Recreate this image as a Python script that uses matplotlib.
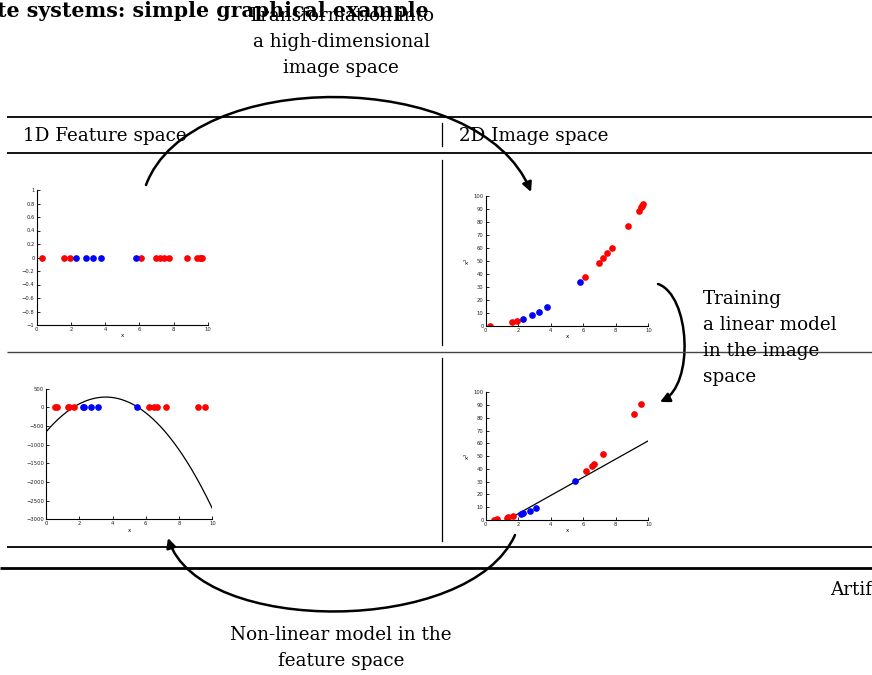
import numpy as np
import matplotlib.pyplot as plt
from matplotlib.patches import FancyArrowPatch
from matplotlib.path import Path

W, H = 872, 675

# data: 1D samples (top row) and second sample set (bottom row)
top_red = [0.29, 1.6, 1.95, 6.12, 6.96, 7.21, 7.47, 7.74, 8.77, 9.4, 9.55, 9.62, 9.69]
top_blue = [2.28, 2.87, 3.28, 3.76, 5.79]
bot_red = [0.54, 0.68, 1.3, 1.4, 1.68, 6.19, 6.51, 6.65, 7.19, 9.12, 9.55]
bot_blue = [2.2, 2.3, 2.7, 3.1, 5.5]

# fitted models
poly_feature = [-72.6, 521.0, -659.0]   # a*x^2 + b*x + c in feature space
line_image = [7.13, -9.3]               # slope, intercept in image space

xticks = [0, 2, 4, 6, 8, 10]
yticks_1d = [-1, -0.8, -0.6, -0.4, -0.2, 0, 0.2, 0.4, 0.6, 0.8, 1]
serif = 'DejaVu Serif'
fs = 13.2
lsp = 1.55

fig = plt.figure(figsize=(W / 100, H / 100), dpi=100)

# overlay in pixel coordinates
ov = fig.add_axes([0, 0, 1, 1])
ov.set_xlim(0, W)
ov.set_ylim(H, 0)
ov.axis('off')

def hline(y, x0, lw=1.3, color='black'):
    ov.plot([x0, W], [y, y], color=color, lw=lw, solid_capstyle='butt')

hline(117, 7)
hline(153, 7)
hline(351.5, 7, lw=1.0, color='#444444')
hline(546.5, 7)
hline(568, 0, lw=2.0)
for y0, y1 in [(123, 146), (160, 345), (358, 541)]:
    ov.plot([442, 442], [y0, y1], color='black', lw=0.9)

ov.text(-3, 17, 'te systems: simple graphical example', fontsize=14.8,
        fontweight='bold', family=serif, ha='left', va='baseline')
ov.text(341, 42, 'Transformation into\na high-dimensional\nimage space',
        fontsize=fs, family=serif, ha='center', va='center', linespacing=lsp)
ov.text(23, 136, '1D Feature space', fontsize=fs, family=serif, va='center')
ov.text(459, 136, '2D Image space', fontsize=fs, family=serif, va='center')
ov.text(703, 338, 'Training\na linear model\nin the image\nspace',
        fontsize=fs, family=serif, ha='left', va='center', linespacing=lsp)
ov.text(341, 648, 'Non-linear model in the\nfeature space', fontsize=fs,
        family=serif, ha='center', va='center', linespacing=lsp)
ov.text(830, 590, 'Artif', fontsize=fs, family=serif, va='center')

def curved_arrow(p0, c1, c2, p1):
    path = Path([p0, c1, c2, p1], [Path.MOVETO, Path.CURVE4, Path.CURVE4, Path.CURVE4])
    arr = FancyArrowPatch(path=path, arrowstyle='-|>', mutation_scale=14,
                          lw=1.8, color='black')
    ov.add_patch(arr)

curved_arrow((146, 185), (190, 67), (480, 67), (531, 192))
curved_arrow((658, 284), (690, 295), (695, 385), (660, 402))
curved_arrow((515, 535), (470, 636), (200, 636), (168, 538))

def frac(x0, x1, ytop, ybot):
    return [x0 / W, 1 - ybot / H, (x1 - x0) / W, (ybot - ytop) / H]

def style(ax):
    for s in ['top', 'right']:
        ax.spines[s].set_visible(False)
    for s in ['left', 'bottom']:
        ax.spines[s].set_linewidth(0.8)
    ax.tick_params(direction='in', length=2, width=0.6, labelsize=3.8,
                   pad=1.5, colors='black', labelcolor='#222222')
    ax.set_xlim(0, 10)
    ax.set_xticks(xticks)
    ax.set_xlabel('x', fontsize=4, labelpad=1)
    ax.patch.set_alpha(0)

ms = 3.8
# top-left: 1D feature space
ax1 = fig.add_axes(frac(36.7, 207.7, 190, 325))
ax1.plot(top_red, np.zeros(len(top_red)), 'o', color='red', ms=ms)
ax1.plot(top_blue, np.zeros(len(top_blue)), 'o', color='blue', ms=ms)
ax1.set_ylim(-1, 1)
ax1.set_yticks(yticks_1d)
ax1.set_yticklabels([f'{v:g}'.replace('-', '\u2212') for v in yticks_1d])
style(ax1)

# top-right: image space (x, x^2)
ax2 = fig.add_axes(frac(485.7, 648.3, 196, 325.7))
ax2.plot(top_red, np.square(top_red), 'o', color='red', ms=ms)
ax2.plot(top_blue, np.square(top_blue), 'o', color='blue', ms=ms)
ax2.set_ylim(0, 100)
ax2.set_yticks(range(0, 101, 10))
ax2.set_ylabel('x$^2$', fontsize=4, labelpad=1)
style(ax2)

# bottom-left: non-linear model in feature space
ax3 = fig.add_axes(frac(46, 212.3, 388.7, 519.3))
xs = np.linspace(0, 10, 200)
ax3.plot(xs, np.polyval(poly_feature, xs), color='black', lw=0.9)
ax3.plot(bot_red, np.zeros(len(bot_red)), 'o', color='red', ms=ms)
ax3.plot(bot_blue, np.zeros(len(bot_blue)), 'o', color='blue', ms=ms)
ax3.set_ylim(-3000, 500)
ax3.set_yticks(range(-3000, 501, 500))
style(ax3)

# bottom-right: linear model in image space
ax4 = fig.add_axes(frac(485.7, 648.3, 392.3, 520))
ax4.plot(xs, np.polyval(line_image, xs), color='black', lw=0.9)
ax4.plot(bot_red, np.square(bot_red), 'o', color='red', ms=ms)
ax4.plot(bot_blue, np.square(bot_blue), 'o', color='blue', ms=ms)
ax4.set_ylim(0, 100)
ax4.set_yticks(range(0, 101, 10))
ax4.set_ylabel('x$^2$', fontsize=4, labelpad=1)
style(ax4)

fig.savefig('out.png', dpi=100)
